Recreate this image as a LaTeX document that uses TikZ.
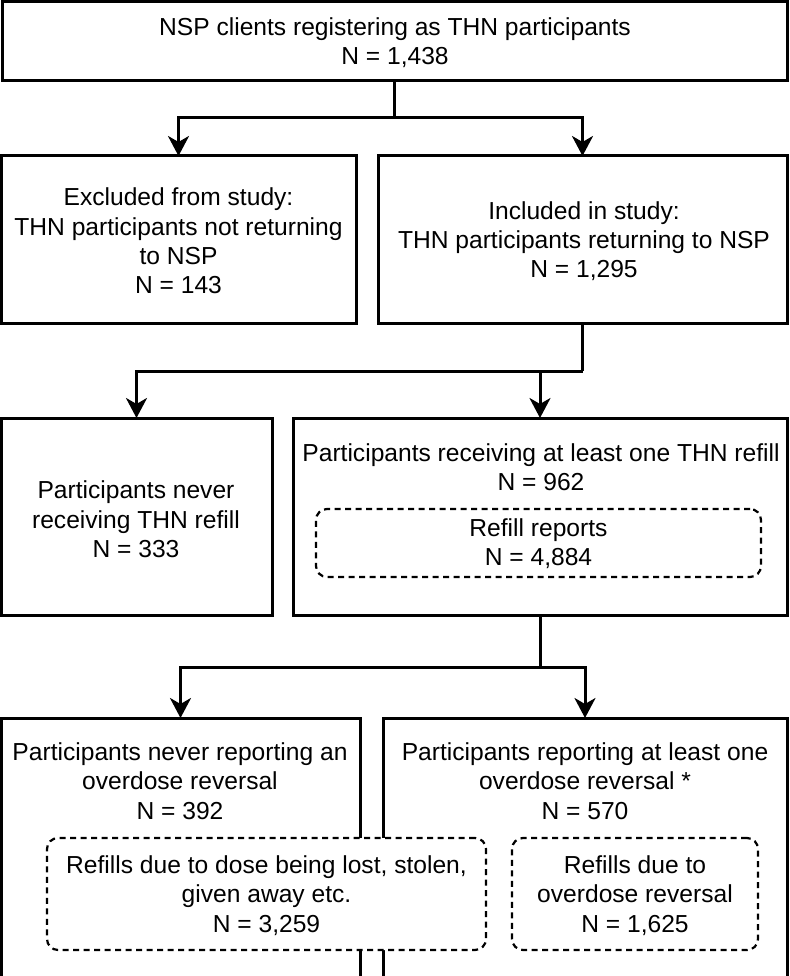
\documentclass[tikz,border=0pt]{standalone}
\usepackage{fontspec}
\setmainfont{Liberation Sans}
\usetikzlibrary{arrows.meta}
\tikzset{
  box/.style={draw=black, line width=3pt, fill=white, inner sep=0pt, outer sep=0pt},
  dbox/.style={draw=black, line width=2.2pt, dash pattern=on 6pt off 4.5pt, rounded corners=11pt, fill=white, inner sep=0pt, outer sep=0pt},
  txt/.style={align=center, inner sep=0pt, font=\fontsize{24.6}{29.3}\selectfont},
  conn/.style={line width=3pt},
  arr/.style={line width=3pt, -{Stealth[length=20pt, width=21pt, inset=6pt]}}
}
\begin{document}
\begin{tikzpicture}[x=1pt, y=-1pt]
\clip (0,0) rectangle (789,976);
\useasboundingbox (0,0) rectangle (789,976);
% boxes
\node[box, minimum width=785pt, minimum height=79pt] (top) at (394.5,41.5) {};
\node[box, minimum width=355pt, minimum height=167pt] (b2l) at (178.5,239.5) {};
\node[box, minimum width=409pt, minimum height=167pt] (b2r) at (582.5,239.5) {};
\node[box, minimum width=271pt, minimum height=197pt] (b3l) at (136.5,516.5) {};
\node[box, minimum width=494pt, minimum height=197pt] (b3r) at (540,516.5) {};
\node[box, minimum width=359pt, minimum height=300pt] (b4l) at (180.5,868) {};
\node[box, minimum width=404pt, minimum height=300pt] (b4r) at (585,868) {};
% dashed boxes
\node[dbox, minimum width=445pt, minimum height=68pt] (d1) at (538.5,543) {};
\node[dbox, minimum width=439pt, minimum height=112pt] (d2) at (266.5,894) {};
\node[dbox, minimum width=246pt, minimum height=112pt] (d3) at (635,894) {};
% texts
\node[txt] (ttop) at (395,42.5) {NSP clients registering as THN participants\\N = 1,438};
\node[txt] (t2l) at (178.5,241) {Excluded from study:\\THN participants not returning\\to NSP\\N = 143};
\node[txt] (t2r) at (584,241) {Included in study:\\THN participants returning to NSP\\N = 1,295};
\node[txt] (t3l) at (136,519.5) {Participants never\\receiving THN refill\\N = 333};
\node[txt] (t3r) at (541,467) {Participants receiving at least one THN refill\\N = 962};
\node[txt] (td1) at (538.5,544) {Refill reports\\N = 4,884};
\node[txt] (t4l) at (180,781) {Participants never reporting an\\overdose reversal\\N = 392};
\node[txt] (t4r) at (585,781) {Participants reporting at least one\\overdose reversal *\\N = 570};
\node[txt] (td2) at (266.5,895.5) {Refills due to dose being lost, stolen,\\given away etc.\\N = 3,259};
\node[txt] (td3) at (635,895.5) {Refills due to\\overdose reversal\\N = 1,625};
% connectors
\draw[conn] (top.south) -- (top.south |- 0,118) coordinate (j1);
\draw[arr] (j1) -| (b2l.north);
\draw[arr] (j1) -| (b2r.north);
\draw[conn] (b2r.south) -- (b2r.south |- 0,371) coordinate (j2);
\draw[arr] (j2) -| (b3l.north);
\draw[arr] (j2) -| (b3r.north);
\draw[conn] (b3r.south) -- (b3r.south |- 0,667) coordinate (j3);
\draw[arr] (j3) -| (b4l.north);
\draw[arr] (j3) -| (b4r.north);
\end{tikzpicture}
\end{document}
